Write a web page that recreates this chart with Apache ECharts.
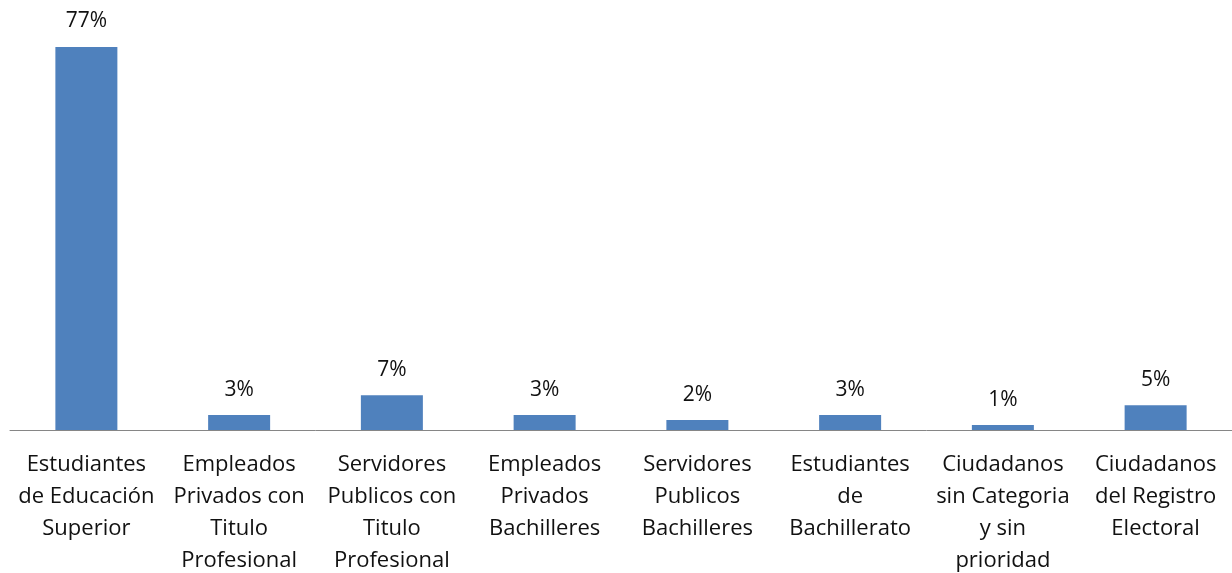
<!DOCTYPE html>
<html>
<head>
<meta charset="utf-8">
<script src="https://cdn.jsdelivr.net/npm/echarts@6/dist/echarts.min.js"></script>
<style>
html, body { margin: 0; padding: 0; background: #fff; }
#main { width: 1232px; height: 573px; }
</style>
</head>
<body>
<div id="main"></div>
<script>
var categories = [
    'Estudiantes\nde Educación\nSuperior',
    'Empleados\nPrivados con\nTitulo\nProfesional',
    'Servidores\nPublicos con\nTitulo\nProfesional',
    'Empleados\nPrivados\nBachilleres',
    'Servidores\nPublicos\nBachilleres',
    'Estudiantes\nde\nBachillerato',
    'Ciudadanos\nsin Categoria\ny sin\nprioridad',
    'Ciudadanos\ndel Registro\nElectoral'
];
var values = [77, 3, 7, 3, 2, 3, 1, 5];

var myChart = echarts.init(document.getElementById('main'));
var option = {
    animation: false,
    grid: {
        left: 10,
        right: 0,
        top: 47,
        bottom: 143,
        outerBoundsMode: 'none'
    },
    xAxis: {
        type: 'category',
        data: categories,
        axisTick: { show: false },
        axisLine: { lineStyle: { color: '#868686', width: 1 } },
        axisLabel: {
            interval: 0,
            margin: 19,
            fontFamily: 'Open Sans',
            fontSize: 22,
            lineHeight: 32,
            color: '#111'
        }
    },
    yAxis: {
        type: 'value',
        min: 0,
        max: 77,
        show: false,
        splitLine: { show: false }
    },
    series: [{
        type: 'bar',
        data: values,
        barWidth: 62,
        itemStyle: { color: '#4f81bd' },
        label: {
            show: true,
            position: 'top',
            distance: 15,
            formatter: '{c}%',
            fontFamily: 'Open Sans',
            fontSize: 21,
            color: '#111'
        }
    }]
};
myChart.setOption(option);
</script>
</body>
</html>
